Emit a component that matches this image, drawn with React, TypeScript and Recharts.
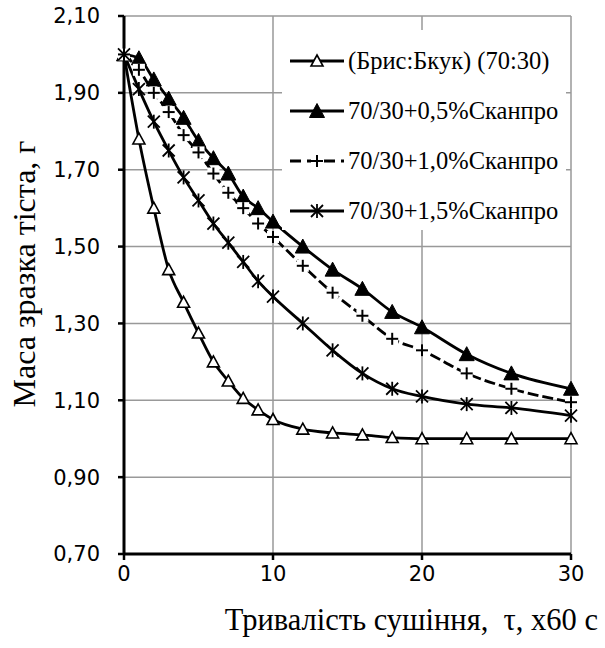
import { CartesianGrid, Legend, Line, LineChart, XAxis, YAxis } from "recharts";

const minutes = [0, 1, 2, 3, 4, 5, 6, 7, 8, 9, 10, 12, 14, 16, 18, 20, 23, 26, 30];
const base7030 = [2.0, 1.78, 1.6, 1.44, 1.355, 1.275, 1.2, 1.15, 1.105, 1.075, 1.05, 1.025, 1.015, 1.01, 1.003, 1.0, 1.0, 1.0, 1.0];
const scanpro05 = [2.0, 1.99, 1.935, 1.885, 1.835, 1.775, 1.73, 1.69, 1.63, 1.6, 1.565, 1.5, 1.44, 1.39, 1.33, 1.29, 1.22, 1.17, 1.13];
const scanpro10 = [2.0, 1.96, 1.9, 1.85, 1.79, 1.745, 1.69, 1.64, 1.6, 1.56, 1.525, 1.45, 1.38, 1.32, 1.26, 1.23, 1.17, 1.13, 1.095];
const scanpro15 = [2.0, 1.91, 1.825, 1.75, 1.68, 1.62, 1.56, 1.51, 1.46, 1.41, 1.37, 1.3, 1.23, 1.17, 1.13, 1.11, 1.09, 1.08, 1.06];

const seriesNames = [
  "(Брис:Бкук) (70:30)",
  "70/30+0,5%Сканпро",
  "70/30+1,0%Сканпро",
  "70/30+1,5%Сканпро",
];
const xTicks = [0, 10, 20, 30];
const yTicks = [0.7, 0.9, 1.1, 1.3, 1.5, 1.7, 1.9, 2.1];

const data = minutes.map((t, i) => ({
  t,
  s1: base7030[i],
  s2: scanpro05[i],
  s3: scanpro10[i],
  s4: scanpro15[i],
}));

const SERIF = "'Liberation Serif', 'Times New Roman', 'DejaVu Serif', serif";
const SANS = "'DejaVu Sans', 'Open Sans', sans-serif";

type MarkerKind = "openTri" | "fillTri" | "plus" | "star";

function Marker({ kind, cx, cy }: { kind: MarkerKind; cx: number; cy: number }) {
  if (cx == null || cy == null) return null;
  if (kind === "openTri") {
    const h = 6;
    return (
      <polygon
        points={`${cx},${cy - h} ${cx + h},${cy + h - 1} ${cx - h},${cy + h - 1}`}
        fill="#fff"
        stroke="#000"
        strokeWidth={1.6}
      />
    );
  }
  if (kind === "fillTri") {
    const h = 7.5;
    return (
      <polygon
        points={`${cx},${cy - h} ${cx + h},${cy + h - 1} ${cx - h},${cy + h - 1}`}
        fill="#000"
        stroke="#000"
        strokeWidth={1}
      />
    );
  }
  if (kind === "plus") {
    const s = 6;
    return (
      <g>
        <rect x={cx - s} y={cy - s} width={2 * s} height={2 * s} fill="#fff" />
        <line x1={cx - s} y1={cy} x2={cx + s} y2={cy} stroke="#000" strokeWidth={2} />
        <line x1={cx} y1={cy - s} x2={cx} y2={cy + s} stroke="#000" strokeWidth={2} />
      </g>
    );
  }
  const s = 6;
  return (
    <g stroke="#000" strokeWidth={1.8}>
      <line x1={cx - s} y1={cy - s} x2={cx + s} y2={cy + s} />
      <line x1={cx - s} y1={cy + s} x2={cx + s} y2={cy - s} />
      <line x1={cx} y1={cy - s - 1} x2={cx} y2={cy + s + 1} />
    </g>
  );
}

const kinds: MarkerKind[] = ["openTri", "fillTri", "plus", "star"];
const dashes = [undefined, undefined, "11 4", undefined];

function LegendBox() {
  return (
    <div style={{ background: "#fff", width: 284, height: 200, paddingTop: 6, boxSizing: "border-box" }}>
      {seriesNames.map((name, i) => (
        <div key={name} style={{ display: "flex", alignItems: "center", height: 50 }}>
          <svg width={60} height={20} style={{ marginLeft: 6 }}>
            <line x1={2} y1={10} x2={56} y2={10} stroke="#000" strokeWidth={2.8} strokeDasharray={i === 2 ? "11 6" : undefined} />
            <Marker kind={kinds[i]} cx={29} cy={10} />
          </svg>
          <span style={{ fontFamily: SERIF, fontSize: 24.5, color: "#000", whiteSpace: "nowrap" }}>{name}</span>
        </div>
      ))}
    </div>
  );
}

function YTitle() {
  return (
    <text
      x={24}
      y={274}
      transform="rotate(-90 24 274)"
      textAnchor="middle"
      dominantBaseline="central"
      fontFamily={SERIF}
      fontSize={32}
      fill="#000"
    >
      Маса зразка тіста, г
    </text>
  );
}

function XTitle() {
  return (
    <text x={598} y={630} textAnchor="end" fontFamily={SERIF} fontSize={30.5} fill="#000" style={{ whiteSpace: "pre" }}>
      Тривалість сушіння,  τ, х60 с
    </text>
  );
}

export default function App() {
  return (
    <div style={{ position: "absolute", left: 0, top: 0, width: 605, height: 648, background: "#fff" }}>
      <LineChart width={605} height={648} data={data} margin={{ top: 16, right: 34, bottom: 64, left: 0 }}>
        <CartesianGrid stroke="#999" strokeWidth={1.5} />
        <XAxis
          type="number"
          dataKey="t"
          domain={[0, 30]}
          ticks={xTicks}
          height={30}
          axisLine={{ stroke: "#000", strokeWidth: 3 }}
          tickLine={{ stroke: "#000", strokeWidth: 2.5 }}
          tickSize={6}
          tickMargin={6}
          tick={{ fill: "#000", fontSize: 21, fontFamily: SANS }}
          label={<XTitle />}
        />
        <YAxis
          type="number"
          domain={[0.7, 2.1]}
          ticks={yTicks}
          width={124}
          tickFormatter={(v: number) => v.toFixed(2).replace(".", ",")}
          axisLine={{ stroke: "#000", strokeWidth: 3 }}
          tickLine={{ stroke: "#000", strokeWidth: 2.5 }}
          tickSize={6}
          tickMargin={18}
          tick={{ fill: "#000", fontSize: 21, fontFamily: SANS }}
          label={<YTitle />}
        />
        <Legend
          layout="vertical"
          align="center"
          verticalAlign="middle"
          content={<LegendBox />}
          wrapperStyle={{ left: 282, top: 30, width: 284, height: 200 }}
        />
        {(["s1", "s2", "s3", "s4"] as const).map((key, i) => (
          <Line
            key={key}
            type="monotone"
            dataKey={key}
            name={seriesNames[i]}
            stroke="#000"
            strokeWidth={2.8}
            strokeDasharray={dashes[i]}
            isAnimationActive={false}
            dot={(p: any) => <Marker key={`${key}-${p.index}`} kind={kinds[i]} cx={p.cx} cy={p.cy} />}
            activeDot={false}
          />
        ))}
      </LineChart>
    </div>
  );
}
